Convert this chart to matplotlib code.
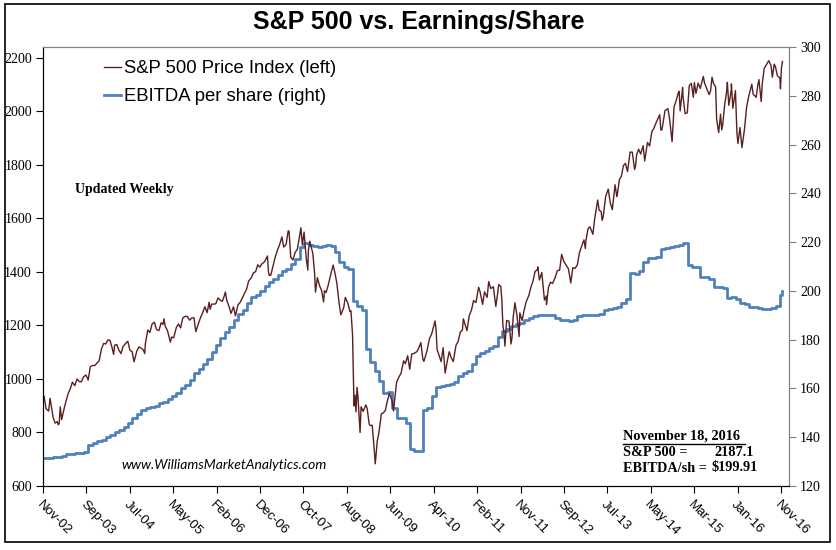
import numpy as np
import pandas as pd
import matplotlib
matplotlib.use("Agg")
import matplotlib.pyplot as plt
from matplotlib.patches import Rectangle
from matplotlib.lines import Line2D

# S&P 500 weekly-ish closes (read off chart / approx.)
sp_dates = [
    "2002-11-22", "2002-11-29", "2002-12-13", "2002-12-31",
    "2003-01-10", "2003-01-31", "2003-02-14", "2003-02-28", "2003-03-07", "2003-03-14", "2003-03-21", "2003-03-31",
    "2003-04-15", "2003-04-30", "2003-05-15", "2003-05-30", "2003-06-13", "2003-06-30", "2003-07-15", "2003-07-31",
    "2003-08-15", "2003-08-29", "2003-09-15", "2003-09-30", "2003-10-15", "2003-10-31", "2003-11-14", "2003-11-28",
    "2003-12-15", "2003-12-31",
    "2004-01-15", "2004-01-30", "2004-02-13", "2004-02-27", "2004-03-12", "2004-03-24", "2004-03-31", "2004-04-15",
    "2004-04-30", "2004-05-14", "2004-05-28", "2004-06-15", "2004-06-30", "2004-07-15", "2004-07-30", "2004-08-12",
    "2004-08-31", "2004-09-15", "2004-09-30", "2004-10-15", "2004-10-25", "2004-10-29", "2004-11-15", "2004-11-30",
    "2004-12-15", "2004-12-31",
    "2005-01-14", "2005-01-31", "2005-02-15", "2005-02-28", "2005-03-07", "2005-03-15", "2005-03-31", "2005-04-20",
    "2005-04-29", "2005-05-13", "2005-05-31", "2005-06-15", "2005-06-30", "2005-07-15", "2005-07-29", "2005-08-15",
    "2005-08-31", "2005-09-15", "2005-09-30", "2005-10-13", "2005-10-31", "2005-11-15", "2005-11-30", "2005-12-15",
    "2005-12-30",
    "2006-01-13", "2006-01-20", "2006-01-31", "2006-02-15", "2006-02-28", "2006-03-15", "2006-03-31", "2006-04-14",
    "2006-04-28", "2006-05-05", "2006-05-15", "2006-05-31", "2006-06-13", "2006-06-30", "2006-07-14", "2006-07-31",
    "2006-08-15", "2006-08-31", "2006-09-15", "2006-09-29", "2006-10-13", "2006-10-31", "2006-11-15", "2006-11-30",
    "2006-12-15", "2006-12-29",
    "2007-01-12", "2007-01-31", "2007-02-20", "2007-02-27", "2007-03-05", "2007-03-15", "2007-03-30", "2007-04-13",
    "2007-04-30", "2007-05-15", "2007-05-31", "2007-06-12", "2007-06-29", "2007-07-13", "2007-07-19", "2007-07-31",
    "2007-08-15", "2007-08-31", "2007-09-14", "2007-09-28", "2007-10-09", "2007-10-19", "2007-10-31", "2007-11-15",
    "2007-11-26", "2007-11-30", "2007-12-10", "2007-12-31",
    "2008-01-11", "2008-01-18", "2008-01-31", "2008-02-15", "2008-02-29", "2008-03-14", "2008-03-20", "2008-03-31",
    "2008-04-15", "2008-04-30", "2008-05-19", "2008-05-30", "2008-06-13", "2008-06-30", "2008-07-11", "2008-07-31",
    "2008-08-11", "2008-08-29", "2008-09-12", "2008-09-19", "2008-09-30", "2008-10-10", "2008-10-17", "2008-10-24",
    "2008-10-31", "2008-11-07", "2008-11-21", "2008-11-28", "2008-12-12", "2008-12-31",
    "2009-01-09", "2009-01-23", "2009-01-30", "2009-02-13", "2009-02-27", "2009-03-06", "2009-03-20", "2009-03-31",
    "2009-04-17", "2009-04-30", "2009-05-15", "2009-05-29", "2009-06-12", "2009-06-30", "2009-07-10", "2009-07-31",
    "2009-08-14", "2009-08-31", "2009-09-18", "2009-09-30", "2009-10-16", "2009-10-30", "2009-11-13", "2009-11-30",
    "2009-12-18", "2009-12-31",
    "2010-01-15", "2010-01-29", "2010-02-05", "2010-02-26", "2010-03-15", "2010-03-31", "2010-04-23", "2010-04-30",
    "2010-05-07", "2010-05-21", "2010-06-04", "2010-06-18", "2010-07-02", "2010-07-16", "2010-07-30", "2010-08-13",
    "2010-08-27", "2010-09-15", "2010-09-30", "2010-10-15", "2010-10-29", "2010-11-05", "2010-11-19", "2010-11-30",
    "2010-12-15", "2010-12-31",
    "2011-01-14", "2011-01-31", "2011-02-18", "2011-02-28", "2011-03-18", "2011-03-31", "2011-04-18", "2011-04-29",
    "2011-05-13", "2011-05-31", "2011-06-17", "2011-06-30", "2011-07-07", "2011-07-22", "2011-07-29", "2011-08-05",
    "2011-08-12", "2011-08-19", "2011-08-31", "2011-09-16", "2011-09-30", "2011-10-07", "2011-10-14", "2011-10-27",
    "2011-11-10", "2011-11-25", "2011-11-30", "2011-12-16", "2011-12-30",
    "2012-01-13", "2012-01-31", "2012-02-15", "2012-02-29", "2012-03-15", "2012-03-30", "2012-04-02", "2012-04-13",
    "2012-04-30", "2012-05-18", "2012-05-31", "2012-06-01", "2012-06-15", "2012-06-29", "2012-07-13", "2012-07-31",
    "2012-08-15", "2012-08-31", "2012-09-14", "2012-09-28", "2012-10-12", "2012-10-31", "2012-11-16", "2012-11-30",
    "2012-12-14", "2012-12-31",
    "2013-01-15", "2013-01-31", "2013-02-15", "2013-02-25", "2013-02-28", "2013-03-15", "2013-03-28", "2013-04-18",
    "2013-04-30", "2013-05-21", "2013-05-31", "2013-06-14", "2013-06-21", "2013-06-28", "2013-07-15", "2013-08-02",
    "2013-08-15", "2013-08-30", "2013-09-18", "2013-09-30", "2013-10-04", "2013-10-18", "2013-10-31", "2013-11-15",
    "2013-11-29", "2013-12-13", "2013-12-31",
    "2014-01-15", "2014-01-31", "2014-02-07", "2014-02-14", "2014-02-28", "2014-03-14", "2014-03-31", "2014-04-11",
    "2014-04-30", "2014-05-15", "2014-05-30", "2014-06-13", "2014-06-30", "2014-07-24", "2014-07-31", "2014-08-08",
    "2014-08-29", "2014-09-18", "2014-09-30", "2014-10-17", "2014-10-31", "2014-11-14", "2014-11-28", "2014-12-05",
    "2014-12-12", "2014-12-29", "2014-12-31",
    "2015-01-15", "2015-01-30", "2015-02-13", "2015-02-27", "2015-03-13", "2015-03-20", "2015-03-31", "2015-04-15",
    "2015-04-30", "2015-05-21", "2015-05-29", "2015-06-15", "2015-06-30", "2015-07-10", "2015-07-20", "2015-07-31",
    "2015-08-14", "2015-08-21", "2015-09-04", "2015-09-17", "2015-09-25", "2015-10-02", "2015-10-15", "2015-10-30",
    "2015-11-03", "2015-11-13", "2015-11-30", "2015-12-01", "2015-12-11", "2015-12-29", "2015-12-31",
    "2016-01-08", "2016-01-15", "2016-01-29", "2016-02-12", "2016-02-29", "2016-03-15", "2016-03-31", "2016-04-20",
    "2016-04-29", "2016-05-20", "2016-05-31", "2016-06-08", "2016-06-24", "2016-07-01", "2016-07-15", "2016-07-29",
    "2016-08-15", "2016-08-31", "2016-09-09", "2016-09-22", "2016-09-30", "2016-10-14", "2016-10-31", "2016-11-04",
    "2016-11-11", "2016-11-18",
]
sp_vals = [
    930, 936, 889, 880,
    928, 856, 835, 841, 829, 833, 896, 848,
    885, 917, 946, 964, 988, 975, 1000, 990,
    990, 1008, 1015, 996, 1046, 1051, 1050, 1058,
    1068, 1112,
    1133, 1131, 1146, 1145, 1120, 1092, 1126, 1129,
    1107, 1095, 1121, 1133, 1141, 1107, 1102, 1064,
    1104, 1120, 1115, 1109, 1095, 1130, 1183, 1174,
    1206, 1212,
    1185, 1181, 1210, 1204, 1225, 1198, 1181, 1138,
    1157, 1154, 1192, 1206, 1191, 1228, 1234, 1234,
    1220, 1228, 1229, 1177, 1207, 1230, 1249, 1270,
    1248,
    1287, 1261, 1280, 1280, 1281, 1303, 1295, 1290,
    1311, 1325, 1294, 1270, 1245, 1270, 1236, 1277,
    1286, 1304, 1320, 1336, 1366, 1378, 1397, 1401,
    1427, 1418,
    1430, 1438, 1460, 1400, 1387, 1388, 1421, 1452,
    1482, 1502, 1531, 1493, 1503, 1553, 1553, 1455,
    1445, 1474, 1484, 1527, 1565, 1501, 1549, 1451,
    1407, 1481, 1515, 1468,
    1401, 1325, 1379, 1349, 1331, 1288, 1330, 1323,
    1351, 1386, 1426, 1400, 1360, 1280, 1240, 1267,
    1305, 1283, 1252, 1255, 1166, 899, 940, 877,
    969, 930, 800, 896, 879, 903,
    890, 832, 826, 827, 735, 683, 769, 798,
    870, 873, 883, 919, 946, 919, 880, 987,
    1005, 1021, 1068, 1057, 1087, 1036, 1093, 1096,
    1102, 1115,
    1136, 1074, 1066, 1104, 1150, 1169, 1217, 1187,
    1111, 1088, 1065, 1117, 1022, 1065, 1102, 1079,
    1065, 1126, 1141, 1176, 1183, 1225, 1199, 1181,
    1236, 1258,
    1293, 1286, 1343, 1327, 1279, 1326, 1305, 1364,
    1338, 1345, 1271, 1321, 1353, 1345, 1292, 1199,
    1178, 1123, 1219, 1216, 1131, 1155, 1225, 1285,
    1239, 1159, 1247, 1219, 1258,
    1289, 1312, 1344, 1366, 1403, 1408, 1419, 1370,
    1398, 1295, 1310, 1278, 1343, 1362, 1357, 1379,
    1405, 1407, 1466, 1441, 1428, 1412, 1359, 1416,
    1413, 1426,
    1472, 1498, 1520, 1488, 1515, 1561, 1569, 1541,
    1598, 1669, 1631, 1626, 1593, 1606, 1682, 1710,
    1661, 1633, 1726, 1682, 1691, 1745, 1757, 1798,
    1806, 1775, 1848,
    1848, 1783, 1797, 1838, 1859, 1841, 1872, 1815,
    1884, 1871, 1924, 1937, 1960, 1988, 1931, 1931,
    2003, 2011, 1972, 1887, 2018, 2040, 2068, 2075,
    2002, 2090, 2059,
    1992, 1995, 2097, 2105, 2053, 2108, 2068, 2106,
    2086, 2131, 2107, 2084, 2063, 2077, 2128, 2104,
    2092, 1971, 1921, 1990, 1931, 1951, 2023, 2079,
    2109, 2023, 2080, 2103, 2012, 2078, 2044,
    1922, 1880, 1940, 1865, 1932, 2016, 2060, 2102,
    2065, 2053, 2097, 2119, 2037, 2103, 2162, 2174,
    2190, 2171, 2128, 2177, 2168, 2133, 2126, 2085,
    2164, 2187,
]

# EBITDA per share, monthly from Nov-02, last point = Nov 18 2016
eb_vals = [
    131.5, 131.5,
    131.5, 132, 132, 132.5, 133, 133, 133.5, 133.5, 134, 137, 137.6, 138.5,
    139, 140, 141, 142, 143, 144, 146, 148, 149.5, 151, 152, 152.5,
    153, 154, 154.5, 155.5, 157, 158, 160, 161.5, 163.5, 166.5, 168, 170,
    172, 175, 178, 180.5, 183, 185, 188, 190.5, 192, 195, 197.5, 198.5,
    200, 202, 203.5, 205, 206.5, 208, 209, 211, 213, 218, 219.5, 219,
    218.5, 218, 218.5, 219, 218.5, 216, 212, 210, 209, 196, 194, 192,
    176, 171, 167, 163, 158, 158.5, 152, 148, 148, 146, 135, 134.5,
    134.5, 151, 152, 157, 160.5, 161, 161.5, 162, 162.5, 165, 166.5, 167,
    170, 173.5, 174.5, 175.5, 176.5, 177.5, 181, 183.5, 184.5, 185.5, 186.5, 187,
    188, 189, 189.5, 190, 190, 190, 190, 189, 188, 188, 187.5, 188,
    189.5, 190, 190, 190, 190, 190.5, 192, 192.5, 193, 193.5, 195, 196.5,
    207.5, 207, 208, 212, 213.5, 213.5, 214, 217, 217.5, 218, 218.5, 219,
    219.5, 210.5, 210, 210, 205.5, 205.5, 205, 201.5, 201.5, 201, 197, 197.5,
    196.5, 195, 194.5, 193.5, 193.5, 193, 192.5, 192.5, 193, 194, 198.5, 199.91,
]

x_labels = ["Nov-02", "Sep-03", "Jul-04", "May-05", "Feb-06", "Dec-06", "Oct-07", "Aug-08", "Jun-09",
            "Apr-10", "Feb-11", "Nov-11", "Sep-12", "Jul-13", "May-14", "Mar-15", "Jan-16", "Nov-16"]

t0 = pd.Timestamp("2002-11-22")
t1 = pd.Timestamp("2016-11-08")

sp_x = pd.to_datetime(sp_dates)
eb_x = pd.date_range("2002-11-01", periods=len(eb_vals) - 1, freq="MS").append(pd.DatetimeIndex(["2016-11-18"]))
eb_x = eb_x.where(eb_x > t0, t0)

fig = plt.figure(figsize=(8.36, 5.5), dpi=100)
ax = fig.add_axes([43 / 836, 64 / 550, 746 / 836, 439 / 550])
ax2 = ax.twinx()

red = "#5a1f1f"
blue = "#4f81bd"
l1, = ax.plot(sp_x, sp_vals, color=red, lw=1.0, label="S&P 500 Price Index (left)")
l2, = ax2.plot(eb_x, eb_vals, color=blue, lw=2.0, drawstyle="steps-post",
               label="EBITDA per share (right)")
ax.set_zorder(ax2.get_zorder() + 1)
ax.patch.set_visible(False)

ax.set_xlim(t0, pd.Timestamp("2017-01-02"))
ax.set_ylim(600, 2241)
ax2.set_ylim(120, 300)

ticks = pd.to_datetime(np.linspace(t0.value, t1.value, len(x_labels)))
ax.set_xticks(ticks)
ax.set_xticklabels(x_labels, rotation=-45, ha="left", va="top", rotation_mode="anchor",
                   fontsize=9.5, family="Liberation Sans")
ax.set_yticks(range(600, 2201, 200))
ax.set_yticklabels([str(v) for v in range(600, 2201, 200)], family="Liberation Serif", fontsize=10)
ax2.set_yticks(range(120, 301, 20))
ax2.set_yticklabels([str(v) for v in range(120, 301, 20)], family="Liberation Serif", fontsize=10)

for a in (ax, ax2):
    a.spines["top"].set_color("#808080")
    a.spines["right"].set_color("#808080")
ax.tick_params(axis="x", direction="out", length=5, pad=4)
ax.tick_params(axis="y", direction="out", length=5, pad=3)
ax2.tick_params(axis="y", direction="out", length=5, pad=3, color="#808080")

leg = ax.legend([l1, l2], [l1.get_label(), l2.get_label()], loc="upper left",
                bbox_to_anchor=(0.06, 1.008), frameon=False, handlelength=0.9,
                handletextpad=0.15, labelspacing=0.6,
                prop={"family": "Liberation Sans", "size": 13.3})

fig.text(419 / 836, 1 - 22 / 550, "S&P 500 vs. Earnings/Share", ha="center", va="center",
         fontsize=18, fontweight="bold", family="Liberation Sans")
fig.text(75 / 836, 1 - 190 / 550, "Updated Weekly", ha="left", va="center",
         fontsize=10, fontweight="bold", family="Liberation Serif")
fig.text(121 / 836, 1 - 465 / 550, "www.WilliamsMarketAnalytics.com", ha="left", va="center",
         fontsize=10, style="italic", family="Lato")

note_fs = 10.3
fig.text(623 / 836, 1 - 436 / 550, "November 18, 2016", ha="left", va="center",
         fontsize=note_fs, fontweight="bold", family="Liberation Serif")
fig.lines.append(Line2D([623 / 836, 745 / 836], [1 - 443.5 / 550, 1 - 443.5 / 550],
                        transform=fig.transFigure, color="black", lw=1.0))
fig.text(623 / 836, 1 - 452 / 550, "S&P 500 =", ha="left", va="center",
         fontsize=note_fs, fontweight="bold", family="Liberation Serif")
fig.text(714 / 836, 1 - 452 / 550, "2187.1", ha="left", va="center",
         fontsize=note_fs, fontweight="bold", family="Liberation Serif")
fig.text(623 / 836, 1 - 468 / 550, "EBITDA/sh =", ha="left", va="center",
         fontsize=note_fs, fontweight="bold", family="Liberation Serif")
fig.text(712 / 836, 1 - 468 / 550, "$199.91", ha="left", va="center",
         fontsize=note_fs, fontweight="bold", family="Liberation Serif")

fig.patches.append(Rectangle((5 / 836, 8 / 550), 825 / 836, 538 / 550, transform=fig.transFigure,
                             fill=False, edgecolor="black", lw=1.2))

fig.savefig("out.png", dpi=100)
